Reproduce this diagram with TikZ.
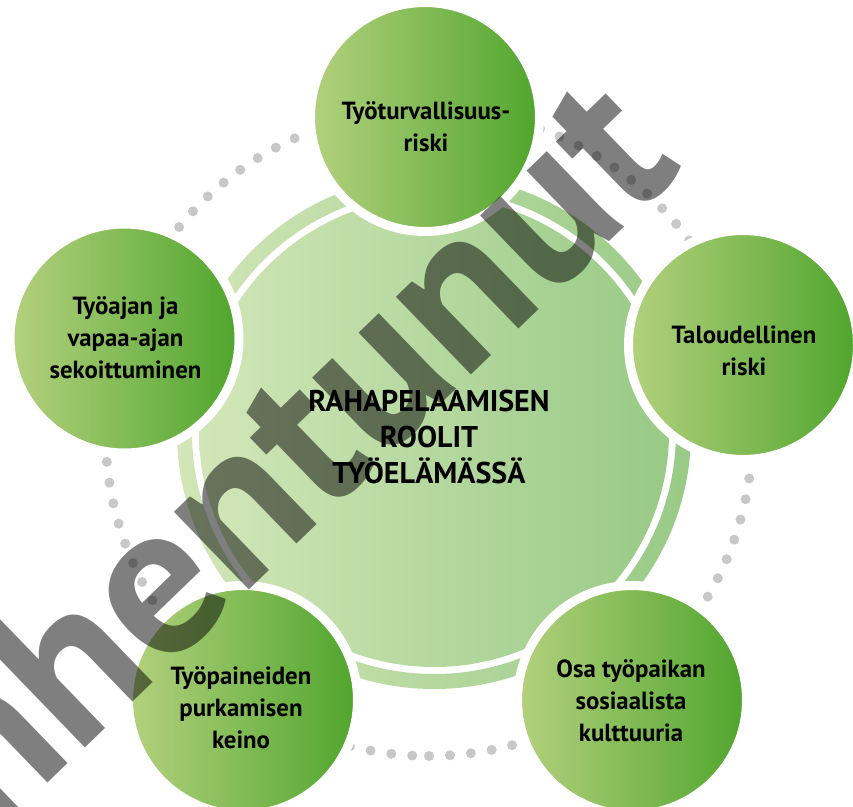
\documentclass[tikz,border=0pt]{standalone}
\usepackage{fontspec}
\setmainfont{PT Sans}
\definecolor{satL}{HTML}{B4D17E}
\definecolor{satR}{HTML}{4FA52D}
\definecolor{discL}{HTML}{D2E6B8}
\definecolor{discR}{HTML}{98CA86}
\definecolor{dotc}{HTML}{C8C8C8}
\tikzset{
  sat/.style={circle, minimum size=229pt, inner sep=0pt, left color=satL, right color=satR, draw=white, line width=9pt},
  sattext/.style={align=center, font=\fontsize{24.8}{32}\selectfont\bfseries, text=black, inner sep=0pt},
  hubtext/.style={align=center, font=\fontsize{30}{36}\selectfont\bfseries, text=black, inner sep=0pt},
  dot/.style={fill=dotc},
  wmark/.style={rotate=44, text=black, opacity=0.5, font=\fontsize{216}{216}\selectfont\bfseries, inner sep=0pt}
}
\begin{document}
\begin{tikzpicture}[x=1pt,y=-1pt]
\useasboundingbox (0,0) rectangle (853,806);
\fill[white] (0,0) rectangle (853,806);
\coordinate (dc) at (429,432.5);
\coordinate (hc) at (434,432);
% dotted circle
\foreach \k in {0,...,96}{
  \fill[dot] (dc) ++({90-3.719*\k}:323.5) circle[radius=5pt];
}
% ring and disc
\shade[left color=discL, right color=discR, even odd rule] (hc) circle[radius=257pt] (hc) circle[radius=242pt];
\node[circle, minimum size=470pt, inner sep=0pt, left color=discL, right color=discR] (hub) at (hc) {};
% satellites
\node[sat] (s1) at (425,117) {};
\node[sat] (s2) at (743,345) {};
\node[sat] (s3) at (632,700) {};
\node[sat] (s4) at (243,700) {};
\node[sat] (s5) at (124.5,338.5) {};
% texts
\node[hubtext] (th) at (429,436.7) {RAHAPELAAMISEN\\ROOLIT\\TYÖELÄMÄSSÄ};
\node[sattext] (t1) at (426,126.5) {Työturvallisuus-\\riski};
\node[sattext] (t2) at (744,351) {Taloudellinen\\riski};
\node[sattext] (t3) at (631,700.7) {Osa työpaikan\\sosiaalista\\kulttuuria};
\node[sattext] (t4) at (241,708) {Työpaineiden\\purkamisen\\keino};
\node[sattext] (t5) at (125.5,338) {Työajan ja\\vapaa-ajan\\sekoittuminen};
% watermark
\node[wmark] (wm) at (206,528) {Vanhentunut};
\end{tikzpicture}
\end{document}
